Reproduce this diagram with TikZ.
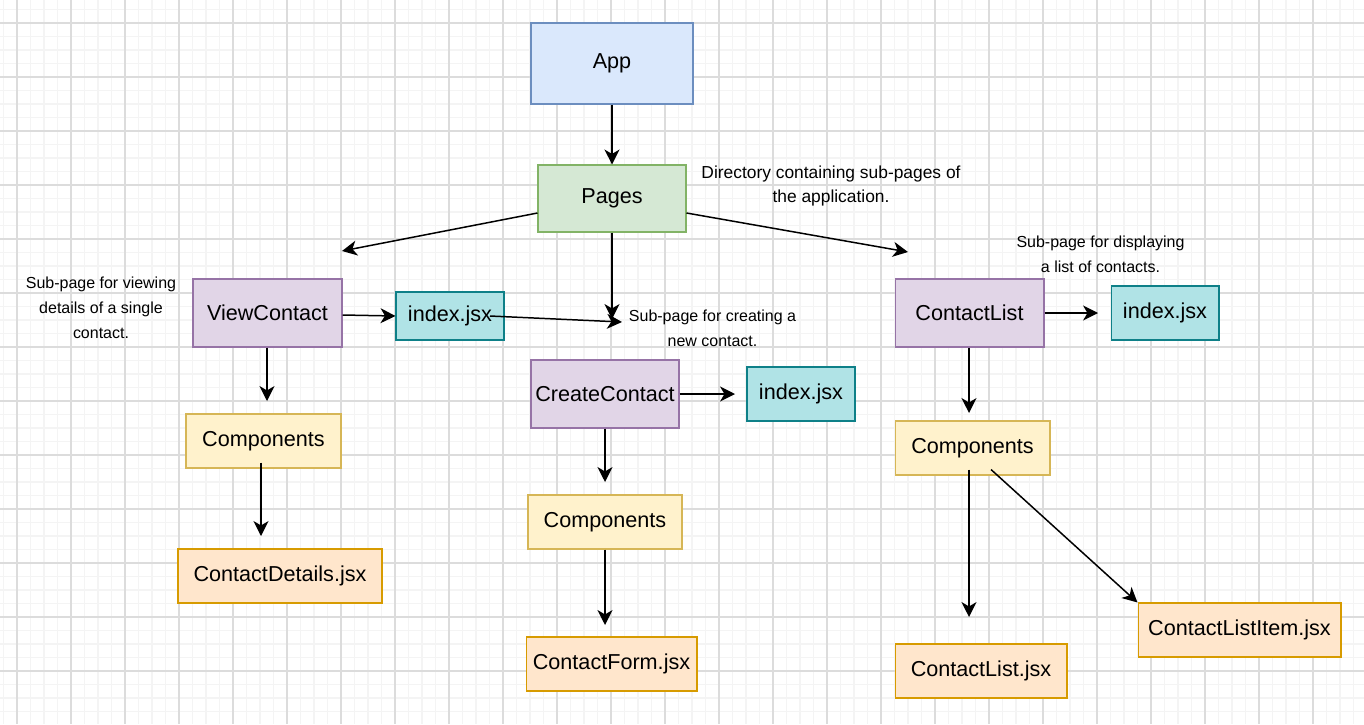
\documentclass[tikz,border=0pt]{standalone}
\usepackage{fontspec}
\setmainfont{Liberation Sans}
\usepackage{xcolor}
\usetikzlibrary{arrows.meta}

% draw.io style colours
\definecolor{appfill}{HTML}{DAE8FC}
\definecolor{appline}{HTML}{6C8EBF}
\definecolor{pagefill}{HTML}{D5E8D4}
\definecolor{pageline}{HTML}{82B366}
\definecolor{subfill}{HTML}{E1D5E7}
\definecolor{subline}{HTML}{9673A6}
\definecolor{indexfill}{HTML}{B0E3E6}
\definecolor{indexline}{HTML}{0E8088}
\definecolor{compfill}{HTML}{FFF2CC}
\definecolor{compline}{HTML}{D6B656}
\definecolor{filefill}{HTML}{FFE6CC}
\definecolor{fileline}{HTML}{D79B00}
\definecolor{minorgrid}{HTML}{F4F4F4}
\definecolor{majorgrid}{HTML}{DCDCDC}

\tikzset{
	box/.style={
			draw, line width=0.6pt, inner sep=0pt,
			font=\fontsize{12.3}{14}\selectfont
		},
	note/.style={
			align=center, inner sep=0pt,
			font=\fontsize{9.1}{14.2}\selectfont
		},
	link/.style={
			line width=0.85pt,
			-{Stealth[length=8.5pt,width=8.5pt,inset=2.5pt]}
		}
}

\begin{document}
\begin{tikzpicture}[x=0.02cm, y=-0.02cm]
	\useasboundingbox (0,0) rectangle (1364,724);

	% The grid in the background
	\fill[white] (0,0) rectangle (1364,724);
	\foreach \gx in {3.5,17,...,1364}
		\draw[minorgrid, line width=0.6pt] (\gx,0) -- (\gx,724);
	\foreach \gy in {9.5,23,...,724}
		\draw[minorgrid, line width=0.6pt] (0,\gy) -- (1364,\gy);
	\foreach \gx in {17,71,...,1364}
		\draw[majorgrid, line width=0.6pt] (\gx,0) -- (\gx,724);
	\foreach \gy in {23,77,...,724}
		\draw[majorgrid, line width=0.6pt] (0,\gy) -- (1364,\gy);

	% Root and pages
	\node (app) at (612, 63.5) [box, draw=appline, fill=appfill, minimum width=3.24cm, minimum height=1.62cm] {App};
	\node (pages) at (612, 198.5) [box, draw=pageline, fill=pagefill, minimum width=2.96cm, minimum height=1.34cm] {Pages};

	% Sub-pages
	\node (view) at (267.5, 313) [box, draw=subline, fill=subfill, minimum width=2.98cm, minimum height=1.36cm] {ViewContact};
	\node (create) at (605, 394) [box, draw=subline, fill=subfill, minimum width=2.96cm, minimum height=1.36cm] {CreateContact};
	\node (list) at (969.5, 313) [box, draw=subline, fill=subfill, minimum width=2.98cm, minimum height=1.36cm] {ContactList};

	% Index files
	\node (viewindex) at (450, 316) [box, draw=indexline, fill=indexfill, minimum width=2.16cm, minimum height=0.96cm] {index.jsx};
	\node (createindex) at (801, 394) [box, draw=indexline, fill=indexfill, minimum width=2.16cm, minimum height=1.08cm] {index.jsx};
	\node (listindex) at (1165, 313) [box, draw=indexline, fill=indexfill, minimum width=2.16cm, minimum height=1.08cm] {index.jsx};

	% Components folders
	\node (viewcomp) at (263.5, 441) [box, draw=compline, fill=compfill, minimum width=3.1cm, minimum height=1.08cm] {Components};
	\node (createcomp) at (605, 522) [box, draw=compline, fill=compfill, minimum width=3.08cm, minimum height=1.08cm] {Components};
	\node (listcomp) at (972.5, 448) [box, draw=compline, fill=compfill, minimum width=3.1cm, minimum height=1.08cm] {Components};

	% Component files
	\node (details) at (280, 576) [box, draw=fileline, fill=filefill, minimum width=4.08cm, minimum height=1.08cm] {ContactDetails.jsx};
	\node (form) at (611.5, 664) [box, draw=fileline, fill=filefill, minimum width=3.42cm, minimum height=1.08cm] {ContactForm.jsx};
	\node (listfile) at (981, 671) [box, draw=fileline, fill=filefill, minimum width=3.44cm, minimum height=1.08cm] {ContactList.jsx};
	\node (listitem) at (1239.5, 630) [box, draw=fileline, fill=filefill, minimum width=4.06cm, minimum height=1.08cm] {ContactListItem.jsx};

	% Notes
	\node (pagesnote) at (831, 186) [note, font=\fontsize{9.9}{14.2}\selectfont] {Directory containing sub-pages of\\the application.};
	\node (viewnote) at (101, 308) [note] {Sub-page for viewing\\details of a single\\contact.};
	\node (createnote) at (712.5, 328.5) [note] {Sub-page for creating a\\new contact.};
	\node (listnote) at (1100.5, 254.5) [note] {Sub-page for displaying\\a list of contacts.};

	% Loose arrow ends
	\coordinate (pagesleft) at (342, 251);
	\coordinate (pagesright) at (908, 252);
	\coordinate (pagesdown) at (612, 319);
	\coordinate (indexend) at (622, 322);
	\coordinate (indexstart) at (490, 316);
	\coordinate (viewdown) at (267, 401);
	\coordinate (createright) at (735, 394);
	\coordinate (createdown) at (605, 482);
	\coordinate (createcompdown) at (605, 625);
	\coordinate (listright) at (1098, 313);
	\coordinate (listdown) at (969, 413);
	\coordinate (viewcompdown) at (261, 536);
	\coordinate (listcompdown) at (969, 617);

	% Arrows
	\draw[link] (app) -- (pages);
	\draw[link] (pages.west |- 0,213) -- (pagesleft);
	\draw[link] (pages.east |- 0,213) -- (pagesright);
	\draw[link] (pages) -- (pagesdown);
	\draw[link] (view.east |- 0,315) -- (viewindex.west);
	\draw[link] (indexstart) -- (indexend);
	\draw[link] (view.south -| viewdown) -- (viewdown);
	\draw[link] (viewcomp.south -| viewcompdown) ++(0,-6) -- (viewcompdown);
	\draw[link] (create.east) -- (createright);
	\draw[link] (create.south) -- (createdown);
	\draw[link] (createcomp.south) -- (createcompdown);
	\draw[link] (list.east) -- (listright);
	\draw[link] (list.south -| listdown) -- (listdown);
	\draw[link] (listcomp.south -| listcompdown) ++(0,-6) -- (listcompdown);
	\draw[link] (listcomp.south -| 991,0) ++(0,-6) -- (listitem.north west);
\end{tikzpicture}
\end{document}
